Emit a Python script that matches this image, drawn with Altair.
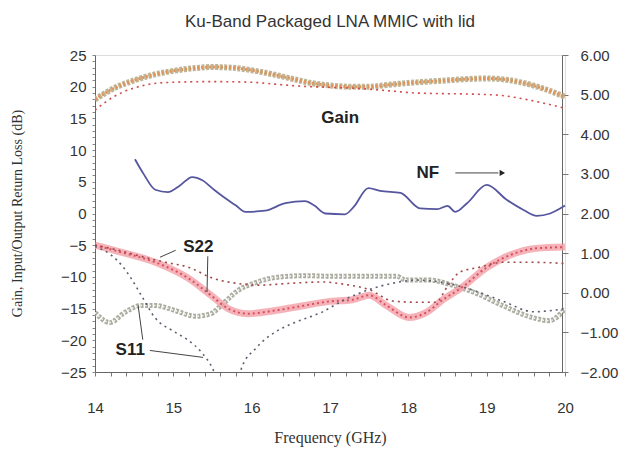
import altair as alt
import pandas as pd

# ---------------- data ----------------
gain_f = [14.0, 14.25, 14.5, 14.75, 15.0, 15.25, 15.5, 15.75, 16.0, 16.25, 16.5, 16.75,
          17.0, 17.25, 17.5, 17.75, 18.0, 18.25, 18.5, 18.75, 19.0, 19.25, 19.5, 19.75, 20.0]
gain_v = [18.0, 19.8, 21.0, 21.9, 22.5, 22.9, 23.1, 23.0, 22.6, 22.0, 21.3, 20.6,
          20.2, 20.0, 20.0, 20.3, 20.6, 20.8, 21.0, 21.2, 21.3, 21.1, 20.5, 19.6, 18.4]

gsim_f = [14.0, 14.25, 14.5, 14.75, 15.0, 15.5, 16.0, 16.3, 16.6, 17.0, 17.4, 17.8,
          18.1, 18.5, 18.9, 19.2, 19.5, 19.8, 20.0]
gsim_v = [16.3, 18.5, 19.8, 20.5, 20.7, 20.8, 20.7, 20.4, 20.1, 19.9, 19.7, 19.3,
          19.0, 18.9, 18.8, 18.6, 18.0, 17.2, 16.6]

nf_f = [14.51, 14.62, 14.77, 14.93, 15.08, 15.24, 15.37, 15.52, 15.66, 15.8, 15.92, 16.17,
        16.43, 16.68, 16.8, 16.94, 17.19, 17.3, 17.49, 17.64, 17.9, 18.15, 18.37, 18.5,
        18.6, 18.75, 19.0, 19.26, 19.47, 19.64, 19.81, 20.0]
nf_v = [3.37, 3.0, 2.6, 2.54, 2.7, 2.92, 2.84, 2.6, 2.39, 2.2, 2.04, 2.07,
        2.26, 2.31, 2.2, 2.0, 1.98, 2.16, 2.64, 2.57, 2.52, 2.13, 2.11, 2.19,
        2.04, 2.26, 2.72, 2.34, 2.09, 1.94, 2.0, 2.2]

s22_f = [14.0, 14.33, 14.77, 15.19, 15.48, 15.7, 15.95, 16.3, 16.68, 16.97, 17.29, 17.5,
         17.72, 18.01, 18.23, 18.43, 18.69, 18.99, 19.29, 19.63, 20.0]
s22_v = [-5.0, -6.1, -7.7, -10.2, -12.9, -15.0, -15.8, -15.3, -14.5, -13.9, -13.6, -12.9,
         -14.5, -16.4, -15.6, -13.7, -11.6, -8.6, -6.6, -5.5, -5.3]

s11_f = [14.0, 14.19, 14.38, 14.59, 14.77, 15.02, 15.28, 15.48, 15.61, 15.83, 16.05, 16.3,
         16.68, 17.0, 17.4, 17.85, 17.97, 18.27, 18.56, 18.87, 19.2, 19.58, 19.8, 20.0]
s11_v = [-15.6, -17.2, -15.6, -14.5, -14.5, -15.3, -16.2, -15.8, -14.5, -12.1, -10.9, -10.1,
         -9.8, -9.9, -9.9, -9.9, -10.5, -10.5, -11.3, -12.6, -14.5, -16.4, -16.9, -15.0]

s22sim_f = [14.0, 14.3, 14.6, 14.9, 15.2, 15.5, 15.8, 16.1, 16.5, 16.9, 17.2, 17.5,
            17.8, 18.1, 18.35, 18.5, 18.65, 18.9, 19.2, 19.6, 20.0]
s22sim_v = [-5.0, -5.8, -6.8, -7.7, -8.5, -10.2, -11.0, -11.3, -11.0, -10.8, -11.2, -12.0,
            -13.8, -14.0, -14.0, -11.5, -9.3, -8.5, -7.7, -7.7, -7.9]

s11sim_f = [14.0, 14.2, 14.35, 14.46, 14.59, 14.77, 15.02, 15.19, 15.36, 15.5, 15.62,
            15.8, 15.87, 16.05, 16.3, 16.55, 16.89, 17.2, 17.5, 17.8, 18.1, 18.4,
            18.8, 19.2, 19.6, 20.0]
s11sim_v = [-5.2, -6.5, -8.3, -10.2, -12.9, -16.5, -18.7, -20.0, -21.9, -24.4, -28.0,
            -28.0, -24.4, -21.3, -18.7, -17.2, -15.6, -13.5, -12.0, -11.0, -10.5, -10.8,
            -12.0, -13.8, -15.5, -15.0]

# annotations (data coordinates)
lab_text = ["Gain", "NF", "S22", "S11"]
lab_f = [17.13, 18.25, 15.32, 14.45]
lab_v = [15.0, 6.4, -5.3, -21.6]

lead_f1 = [15.03, 15.44, 14.7, 14.61, 18.6]
lead_v1 = [-5.8, -6.75, -21.6, -19.9, 6.4]
lead_f2 = [14.83, 15.43, 15.38, 14.55, 19.15]
lead_v2 = [-6.9, -12.4, -22.7, -14.5, 6.4]

arrow_f = [19.2]
arrow_v = [6.4]

x_ticks = [round(14 + 0.2 * i, 1) for i in range(31)]
left_ticks = list(range(-25, 26))
right_ticks = [-2, -1, 0, 1, 2, 3, 4, 5, 6]

# ---------------- frames ----------------
def frame(f, v):
    return pd.DataFrame({"f": f, "v": v})

gain_df = frame(gain_f, gain_v)
gsim_df = frame(gsim_f, gsim_v)
nf_df = frame(nf_f, nf_v)
s22_df = frame(s22_f, s22_v)
s11_df = frame(s11_f, s11_v)
s22sim_df = frame(s22sim_f, s22sim_v)
s11sim_df = frame(s11sim_f, s11sim_v)
lab_df = pd.DataFrame({"t": lab_text, "f": lab_f, "v": lab_v})
lead_df = pd.DataFrame({"f": lead_f1, "v": lead_v1, "f2": lead_f2, "v2": lead_v2})
arrow_df = frame(arrow_f, arrow_v)

LBL = "Liberation Sans"
SER = "Liberation Serif"

xscale = alt.Scale(domain=[14, 20], nice=False)
lscale = alt.Scale(domain=[-25, 25], nice=False)
rscale = alt.Scale(domain=[-2, 6], nice=False)

xaxis = alt.Axis(
    values=x_ticks,
    labelExpr="abs(datum.value - round(datum.value)) < 0.01 ? format(datum.value, 'd') : ''",
    tickSize=4, tickColor="#777", domainColor="#666", labelFont=LBL, labelFontSize=15,
    labelColor="#333", labelPadding=24, grid=False, title="Frequency (GHz)",
    titleFont=SER, titleFontSize=16, titleFontWeight="normal", titleColor="#333",
    titleY=65, titleBaseline="middle", labelFlush=False,
)
laxis = alt.Axis(
    values=left_ticks,
    labelExpr="datum.value % 5 == 0 ? format(datum.value, 'd') : ''",
    tickSize=3, tickColor="#888", domainColor="#666", labelFont=LBL, labelFontSize=15,
    labelColor="#333", labelPadding=6, grid=False,
    title="Gain, Input/Output Return Loss (dB)", titleFont=SER, titleFontSize=14,
    titleFontWeight="normal", titleColor="#333", titleX=-78, titleY=158,
    titleBaseline="middle", titleAngle=-90, labelFlush=False,
)
raxis = alt.Axis(
    values=right_ticks, format=".2f", orient="right", tickSize=6, tickColor="#777",
    domainColor="#666", labelFont=LBL, labelFontSize=15, labelColor="#333",
    labelPadding=12, grid=False, title=None, labelFlush=False, offset=-3,
)

X = alt.X("f:Q", scale=xscale, axis=xaxis)
XN = alt.X("f:Q", scale=xscale, axis=xaxis)
Y = alt.Y("v:Q", scale=lscale, axis=laxis)


def line(df, color, width, dash=None, opacity=1.0, interp="monotone"):
    kw = dict(color=color, strokeWidth=width, opacity=opacity, interpolate=interp, clip=True)
    if dash is not None:
        kw["strokeDash"] = dash
    return alt.Chart(df).mark_line(**kw).encode(x=X, y=Y)


left = alt.layer(
    # gain measured (two overlapping traces of markers)
    line(gain_df, "#b7ad8c", 6, [3, 1.5], 0.9),
    line(gain_df, "#e39152", 3, [2, 2], 0.95),
    # gain simulated
    line(gsim_df, "#d24a4a", 1.6, [2, 4]),
    # S11 measured (grey circles)
    line(s11_df, "#9c9c8e", 5, [3, 1.5], 0.85),
    line(s11_df, "#ffffff", 1.5, [1.5, 3], 0.9),
    # S22 measured (red squares)
    line(s22_df, "#f2a0a8", 7, None, 0.8),
    line(s22_df, "#d84a5a", 2, [2, 3], 0.95),
    # simulated return losses
    line(s22sim_df, "#a04848", 1.6, [2, 4]),
    line(s11sim_df, "#5e5e70", 1.6, [2, 4]),
    # leader lines and arrow
    alt.Chart(lead_df).mark_rule(color="#444", strokeWidth=1).encode(
        x=X, y=Y, x2="f2:Q", y2="v2:Q"),
    alt.Chart(arrow_df).mark_point(shape="triangle-right", filled=True, size=40,
                                   color="#222", opacity=1).encode(x=X, y=Y),
    alt.Chart(lab_df).mark_text(font=LBL, fontSize=17, fontWeight="bold",
                                color="#222").encode(x=X, y=Y, text="t:N"),
)

nf = alt.Chart(nf_df).mark_line(color="#5656a0", strokeWidth=1.8, interpolate="monotone").encode(
    x=XN, y=alt.Y("v:Q", scale=rscale, axis=raxis))

chart = alt.layer(left, nf).resolve_scale(y="independent").properties(
    width=470, height=317,
    padding={"left": 87, "top": 47, "right": 62, "bottom": 80},
    autosize=alt.AutoSizeParams(type="none"),
    title=alt.TitleParams("Ku-Band Packaged LNA MMIC with lid", font=LBL, fontSize=17,
                          fontWeight="normal", color="#333", anchor="middle", offset=17),
).configure_view(stroke="#666", strokeWidth=1).configure(background="white")

chart.save("out.html", embed_options={"renderer": "svg", "actions": False})
